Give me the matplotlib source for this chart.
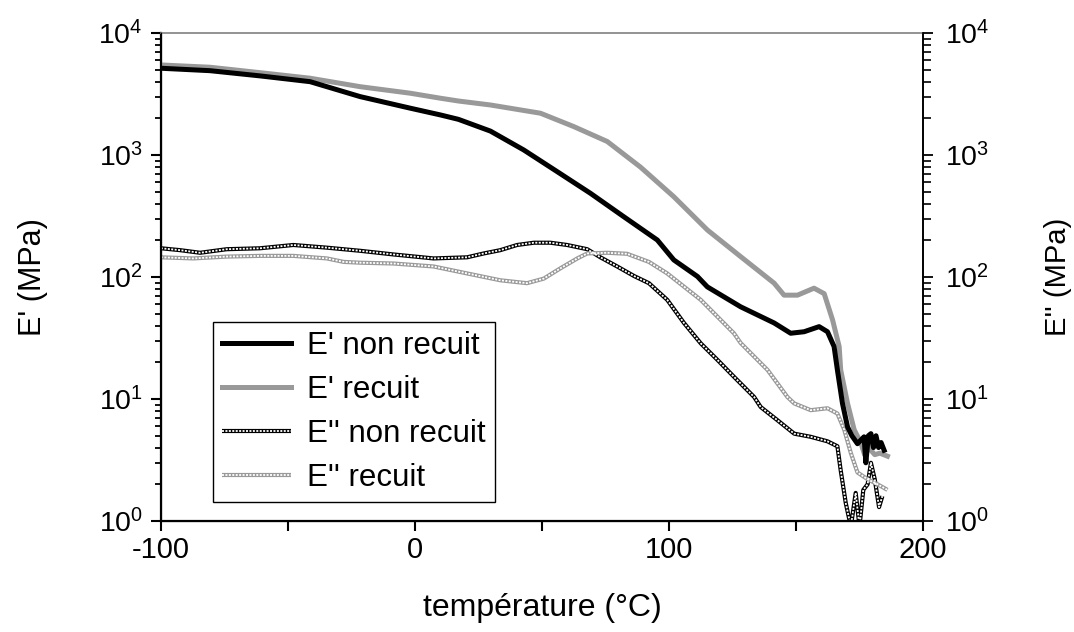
import matplotlib
matplotlib.use("Agg")
import matplotlib.pyplot as plt
from matplotlib.ticker import MultipleLocator, LogLocator, LogFormatterMathtext, NullFormatter
from matplotlib.legend_handler import HandlerTuple

plt.rcParams['font.family'] = ['Liberation Sans', 'DejaVu Sans']
plt.rcParams['mathtext.fontset'] = 'custom'
plt.rcParams['mathtext.rm'] = 'Liberation Sans'
plt.rcParams['axes.unicode_minus'] = False

# ================= DATA ===================

# E' non recuit
t_e1 = [-100, -80.7, -61, -41.3, -21.6, -1.9, 10, 17.1, 29.7, 42.8, 56, 69.1, 82.2,
        95.4, 101.9, 111.2, 115.1, 128.2, 141.4, 147.9, 153.2, 159.1, 162.4, 165,
        166.3, 168.3, 170.3, 172, 174.2, 175.5, 176.8, 177.5, 178.5, 179.5, 180.5,
        181.5, 182.5, 183.5, 184.7]
e1 = [5140, 4910, 4450, 3990, 3010, 2420, 2130, 1960, 1570, 1100, 730, 485, 312,
      201, 138, 101, 83, 57, 42, 34.6, 35.6, 39.2, 35.6, 26.9,
      17.3, 9.2, 5.9, 5.0, 4.3, 4.6, 4.9, 3.0, 5.0, 5.2, 4.0,
      5.0, 4.0, 4.4, 3.8]

# E' recuit
t_e2 = [-100, -80.7, -61, -41.3, -21.6, -1.9, 10, 17.1, 29.7, 49.4, 62.5, 75.7, 88.8,
        101.9, 115.1, 128.2, 141.4, 145.3, 150.6, 157.1, 161.1, 164.4, 167, 167.6,
        170.3, 172.9, 175.5, 177, 178.5, 179.5, 181, 183, 186]
e2 = [5470, 5240, 4730, 4260, 3630, 3210, 2920, 2770, 2570, 2200, 1710, 1290, 795,
      455, 243, 147, 89, 71, 71, 81, 73, 44.5, 26.9, 17.3,
      9.2, 5.6, 4.4, 3.5, 4.2, 3.8, 3.5, 3.6, 3.4]

# E'' non recuit
t_e3 = [-100, -92.5, -84.6, -74.1, -61, -47.9, -34.7, -21.6, -8.4, 7.3, 20.5, 27.1,
        33.6, 40.2, 46.8, 53.3, 59.9, 67.8, 73, 79.6, 86.2, 92.1, 99.3, 105.9, 112.5,
        119.1, 125.6, 133.5, 136.1, 142.7, 149.3, 155.8, 162.4, 166.3, 167.6, 169.6,
        171.6, 173.5, 175, 176.5, 178.2, 179.5, 181, 182.7, 184]
e3 = [172, 166, 158, 169, 172, 183, 174, 164, 153, 142, 145, 156,
      166, 183, 191, 191, 183, 169, 145, 122, 102, 89, 65, 42, 28.6,
      20.9, 15.2, 10.4, 8.6, 6.7, 5.2, 4.9, 4.5, 4.1, 2.6, 1.4,
      0.9, 1.7, 0.9, 1.8, 2.0, 3.0, 2.2, 1.3, 1.6]

# E'' recuit
t_e4 = [-100, -87.3, -74.1, -61, -47.9, -34.7, -28.1, -21.6, -8.4, 7.3, 20.5, 33.6,
        44.1, 50.7, 57.3, 63.9, 67.8, 75.7, 83.5, 92.1, 99.3, 112.5, 125.6, 128.2,
        138.8, 146.6, 149.3, 155.8, 162.4, 166.3, 169, 171.6, 174.2, 178.2, 182.1, 186]
e4 = [145, 142, 147, 149, 149, 142, 133, 131, 129, 122, 107, 94,
      89, 97, 118, 142, 156, 158, 155, 133, 107, 65, 34.5, 28.8,
      17.3, 10.4, 9.2, 8.1, 8.4, 7.6, 5.6, 3.6, 2.5, 2.2, 2.0, 1.8]

labels = ["E' non recuit", "E' recuit", "E'' non recuit", "E'' recuit"]

# ================= PLOT ===================

fig = plt.figure(figsize=(10.74, 6.32), dpi=100)
ax = fig.add_axes([0.1499, 0.1756, 0.7095, 0.7722])

grey = '#999999'


def chain(x, y, color):
    # E'' curves: chain of small open squares
    base, = ax.plot(x, y, color=color, lw=3.0, solid_capstyle='butt', zorder=2)
    holes, = ax.plot(x, y, color='white', lw=1.3, dashes=(1.1, 0.8),
                     dash_capstyle='butt', zorder=2.1)
    return (base, holes)


h3 = chain(t_e3, e3, 'black')
h4 = chain(t_e4, e4, grey)
h1, = ax.plot(t_e1, e1, color='black', lw=3.6, zorder=3)
h2, = ax.plot(t_e2, e2, color=grey, lw=3.6, zorder=2.9)

ax.set_yscale('log')
ax.set_xlim(-100, 200)
ax.set_ylim(1, 1e4)

ax.xaxis.set_major_locator(MultipleLocator(100))
ax.xaxis.set_minor_locator(MultipleLocator(50))
ax.yaxis.set_major_locator(LogLocator(base=10))
ax.yaxis.set_major_formatter(LogFormatterMathtext())
ax.yaxis.set_minor_locator(LogLocator(base=10, subs=range(2, 10)))
ax.yaxis.set_minor_formatter(NullFormatter())

ax.tick_params(axis='x', which='both', direction='out', length=7, width=1.5,
               labelsize=21, pad=4)
ax.tick_params(axis='y', which='major', direction='out', length=7, width=1.5,
               labelsize=20.5, pad=6)
ax.tick_params(axis='y', which='minor', direction='out', length=4.5, width=1.3)

for s in ['left', 'bottom']:
    ax.spines[s].set_linewidth(1.6)
ax.spines['top'].set_color('#808080')
ax.spines['top'].set_linewidth(1.2)
ax.spines['right'].set_linewidth(1.2)

ax.set_xlabel("température (°C)", fontsize=23, labelpad=21)
ax.set_ylabel("E' (MPa)", fontsize=22, labelpad=36)

ax2 = ax.twinx()
ax2.set_yscale('log')
ax2.set_ylim(1, 1e4)
ax2.yaxis.set_major_locator(LogLocator(base=10))
ax2.yaxis.set_major_formatter(LogFormatterMathtext())
ax2.yaxis.set_minor_locator(LogLocator(base=10, subs=range(2, 10)))
ax2.yaxis.set_minor_formatter(NullFormatter())
ax2.tick_params(axis='y', which='major', direction='out', length=7, width=1.3,
                labelsize=20.5, pad=9)
ax2.tick_params(axis='y', which='minor', direction='out', length=5.5, width=1.2)
ax2.spines['top'].set_visible(False)
ax2.spines['right'].set_linewidth(1.2)
ax2.set_ylabel("E'' (MPa)", fontsize=21, labelpad=39)

leg = ax.legend([h1, h2, h3, h4], labels, loc='lower left',
                bbox_to_anchor=(0.068, 0.039), borderaxespad=0,
                fontsize=22.5, handlelength=2.2, handletextpad=0.5,
                labelspacing=0.44, borderpad=0.3, fancybox=False,
                framealpha=1, edgecolor='black',
                handler_map={tuple: HandlerTuple(ndivide=1, pad=0)})
leg.get_frame().set_linewidth(1.0)

fig.savefig("out.png", dpi=100)
